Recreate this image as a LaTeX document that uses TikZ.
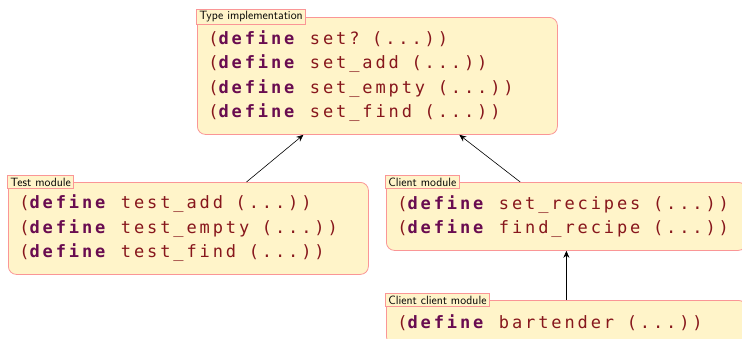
\documentclass[tikz,border=0pt]{standalone}
\usepackage{fontspec}
\newfontfamily\codefont[LetterSpace=17]{DejaVu Sans Mono}
\usetikzlibrary{arrows.meta,calc}
\usepackage{xcolor}
\definecolor{modfill}{RGB}{255,244,201}
\definecolor{modline}{RGB}{250,150,150}
\definecolor{kwcolor}{RGB}{105,12,80}
\definecolor{idcolor}{RGB}{135,22,28}
\newcommand{\kw}{\textcolor{kwcolor}{\textbf{define}}}
\newcommand{\gap}{\hspace{12.6pt}}

\begin{document}
\begin{tikzpicture}[x=1pt,y=-1pt,
    module/.style={draw=modline,fill=modfill,line width=0.8pt,rounded corners=8pt,
      anchor=north west,inner xsep=11pt,inner ysep=0pt,text width=338pt,align=left,
      text=idcolor,font=\codefont\fontsize{17}{24.5}\selectfont},
    tag/.style={draw=modline,fill=modfill,line width=0.8pt,inner xsep=3pt,inner ysep=2.5pt,
      anchor=west,xshift=-1pt,text=black,font=\sffamily\fontsize{12}{14}\selectfont},
    conn/.style={line width=0.6pt,black,-{Stealth[length=7pt,width=6pt]}}]
        \useasboundingbox (0,0) rectangle (742,338);
        \clip (0,0) rectangle (742,338);

        \node[module,minimum height=117pt] (impl) at (197,17)
          {(\kw\gap set?\gap(...))\\(\kw\gap set\_add\gap(...))\\(\kw\gap set\_empty\gap(...))\\(\kw\gap set\_find\gap(...))};
        \node[module,minimum height=92pt] (test) at (8,182)
          {(\kw\gap test\_add\gap(...))\\(\kw\gap test\_empty\gap(...))\\(\kw\gap test\_find\gap(...))};
        \node[module,minimum height=68pt] (client) at (386,182)
          {(\kw\gap set\_recipes\gap(...))\\(\kw\gap find\_recipe\gap(...))};
        \node[module,minimum height=44pt] (cclient) at (386,300)
          {(\kw\gap bartender\gap(...))};

        \node[tag] (impltag) at (impl.north west) {Type implementation};
        \node[tag] (testtag) at (test.north west) {Test module};
        \node[tag] (clienttag) at (client.north west) {Client module};
        \node[tag] (cclienttag) at (cclient.north west) {Client client module};

        \draw[conn] ($(test.north west)!0.661!(test.north east)$) -- ($(impl.south west)!0.295!(impl.south east)$);
        \draw[conn] ($(client.north west)!0.372!(client.north east)$) -- ($(impl.south west)!0.727!(impl.south east)$);
        \draw[conn] (cclient.north) -- (client.south);
\end{tikzpicture}
\end{document}
